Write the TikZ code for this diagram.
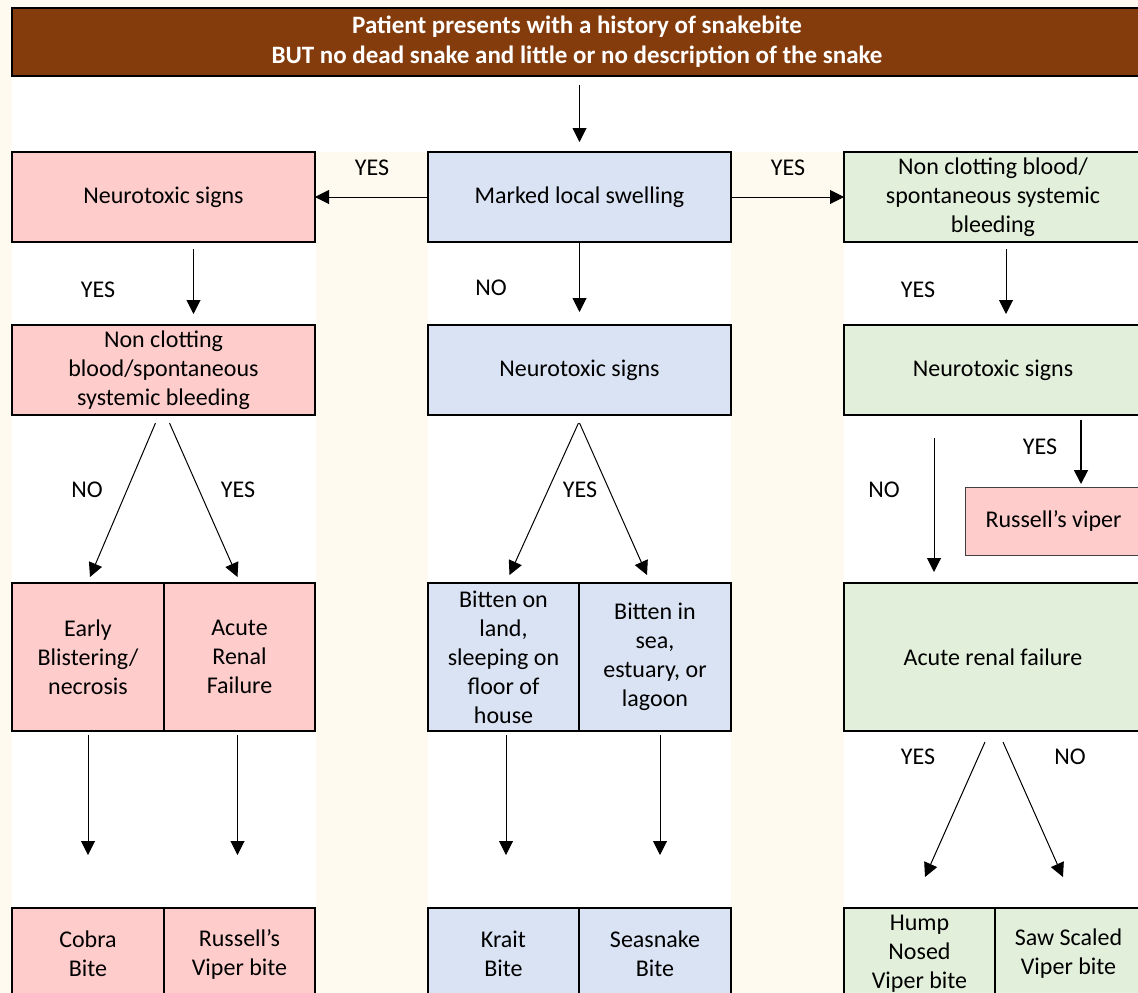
\documentclass[tikz,border=0pt]{standalone}
\usepackage{fontspec}
\setmainfont{Carlito}
\usetikzlibrary{calc,arrows.meta}
\definecolor{snakebrown}{HTML}{843C0C}
\definecolor{pagecream}{HTML}{FFFAEF}
\definecolor{cellpink}{HTML}{FFCCCC}
\definecolor{cellblue}{HTML}{DAE3F3}
\definecolor{cellgreen}{HTML}{E2EFDA}
\tikzset{
	cell/.style={draw=black, line width=1.8pt, anchor=north west, inner sep=2pt, outer sep=0pt, align=center, font=\fontsize{24}{29}\selectfont},
	pinkcell/.style={cell, fill=cellpink},
	bluecell/.style={cell, fill=cellblue},
	greencell/.style={cell, fill=cellgreen},
	answer/.style={font=\fontsize{24}{29}\selectfont},
	flow/.style={-{Triangle[length=14pt, width=14pt]}, line width=1pt}
}

\begin{document}
\begin{tikzpicture}[x=1pt, y=-1pt]
			%%%%% START %%%%%
			\useasboundingbox (0, 0) rectangle (1138, 993);
			\clip (0, 0) rectangle (1138, 993);
			
			\fill[pagecream] (0, 0) rectangle (1138, 993);
			\fill[white] (12, 77) rectangle (1138, 152);
			\fill[white] (12, 152) rectangle (316, 993);
			\fill[white] (428, 152) rectangle (731, 993);
			\fill[white] (844, 152) rectangle (1138, 993);
			
			\node[cell, fill=snakebrown, text=white, minimum width=1130, minimum height=68, font=\bfseries\fontsize{25}{30}\selectfont] (head) at (12, 8) {Patient presents with a history of snakebite\\BUT no dead snake and little or no description of the snake};
			
			\node[pinkcell, minimum width=303, minimum height=90] (neuroL) at (12, 152) {Neurotoxic signs};
			\node[bluecell, minimum width=303, minimum height=90] (swell) at (428, 152) {Marked local swelling};
			\node[greencell, minimum width=298, minimum height=90] (clotR) at (844, 152) {Non clotting blood/\\spontaneous systemic\\bleeding};
			
			\node[pinkcell, minimum width=303, minimum height=90] (clotL) at (12, 325) {Non clotting\\blood/spontaneous\\systemic bleeding};
			\node[bluecell, minimum width=303, minimum height=90] (neuroM) at (428, 325) {Neurotoxic signs};
			\node[greencell, minimum width=298, minimum height=90] (neuroR) at (844, 325) {Neurotoxic signs};
			
			\node[pinkcell, draw=black!75, line width=0.8pt, minimum width=177, minimum height=68] (russ) at (965, 487) {Russell’s viper};
			
			\node[pinkcell, minimum width=152, minimum height=148] (early) at (12, 583) {Early\\Blistering/\\necrosis};
			\node[pinkcell, minimum width=151, minimum height=148] (arfL) at (164, 583) {Acute\\Renal\\Failure};
			\node[bluecell, minimum width=151, minimum height=148] (land) at (428, 583) {Bitten on\\land,\\sleeping on\\floor of\\house};
			\node[bluecell, minimum width=152, minimum height=148] (sea) at (579, 583) {Bitten in\\sea,\\estuary, or\\lagoon};
			\node[greencell, minimum width=298, minimum height=148] (arfR) at (844, 583) {Acute renal failure};
			
			\node[pinkcell, minimum width=152, minimum height=92] (cobra) at (12, 908) {Cobra\\Bite};
			\node[pinkcell, minimum width=151, minimum height=92] (rvb) at (164, 908) {Russell’s\\Viper bite};
			\node[bluecell, minimum width=151, minimum height=92] (krait) at (428, 908) {Krait\\Bite};
			\node[bluecell, minimum width=152, minimum height=92] (seasnake) at (579, 908) {Seasnake\\Bite};
			\node[greencell, minimum width=151, minimum height=92] (hump) at (844, 908) {Hump\\Nosed\\Viper bite};
			\node[greencell, minimum width=147, minimum height=92] (saw) at (995, 908) {Saw Scaled\\Viper bite};
			
			\draw[flow] ($(head.south -| swell.north)+(0, 9)$) -- ($(swell.north)+(0, -10)$);
			\draw[flow] (swell.west) -- (neuroL.east);
			\draw[flow] (swell.east) -- (clotR.west);
			\node[answer] (yesA) at (372, 168) {YES};
			\node[answer] (yesB) at (788, 168) {YES};
			
			\draw[flow] ($(neuroL.south)+(30, 7)$) -- ($(clotL.north)+(30, -11)$);
			\draw[flow] (swell.south) -- ($(neuroM.north)+(0, -13)$);
			\draw[flow] ($(clotR.south)+(13, 7)$) -- ($(neuroR.north)+(13, -11)$);
			\node[answer] (yesC) at (98, 290) {YES};
			\node[answer] (noA) at (491, 288) {NO};
			\node[answer] (yesD) at (918, 290) {YES};
			
			\draw[flow] ($(clotL.south)+(-8, 8)$) -- ($(early.north)+(2, -6)$);
			\draw[flow] ($(clotL.south)+(6, 8)$) -- ($(arfL.north)+(-2, -6)$);
			\draw[flow] ($(neuroM.south)+(-1, 8)$) -- ($(land.north)+(6, -8)$);
			\draw[flow] ($(neuroM.south)+(0, 8)$) -- ($(sea.north)+(-8, -8)$);
			\draw[flow] ($(neuroR.south)+(-59, 23)$) -- ($(arfR.north)+(-59, -11)$);
			\draw[flow, line width=1.8pt] ($(neuroR.south)+(88, 5)$) -- ($(russ.north)+(27.5, -3)$);
			\node[answer] (noB) at (87, 490) {NO};
			\node[answer] (yesE) at (238, 490) {YES};
			\node[answer] (yesF) at (580, 490) {YES};
			\node[answer] (noC) at (884, 490) {NO};
			\node[answer] (yesG) at (1040, 447) {YES};
			
			\draw[flow] ($(early.south)+(0, 4)$) -- ($(cobra.north)+(0, -53)$);
			\draw[flow] ($(arfL.south)+(-2, 4)$) -- ($(rvb.north)+(-2, -53)$);
			\draw[flow] ($(land.south)+(2.5, 4)$) -- ($(krait.north)+(2.5, -53)$);
			\draw[flow] ($(sea.south)+(5, 4)$) -- ($(seasnake.north)+(5, -53)$);
			\draw[flow] ($(arfR.south)+(-8, 11)$) -- ($(hump.north)+(5.5, -31)$);
			\draw[flow] ($(arfR.south)+(10, 11)$) -- ($(saw.north)+(-5.5, -31)$);
			\node[answer] (yesH) at (918, 757) {YES};
			\node[answer] (noD) at (1070, 757) {NO};
			
			%%%%% END %%%%%
\end{tikzpicture}
\end{document}
